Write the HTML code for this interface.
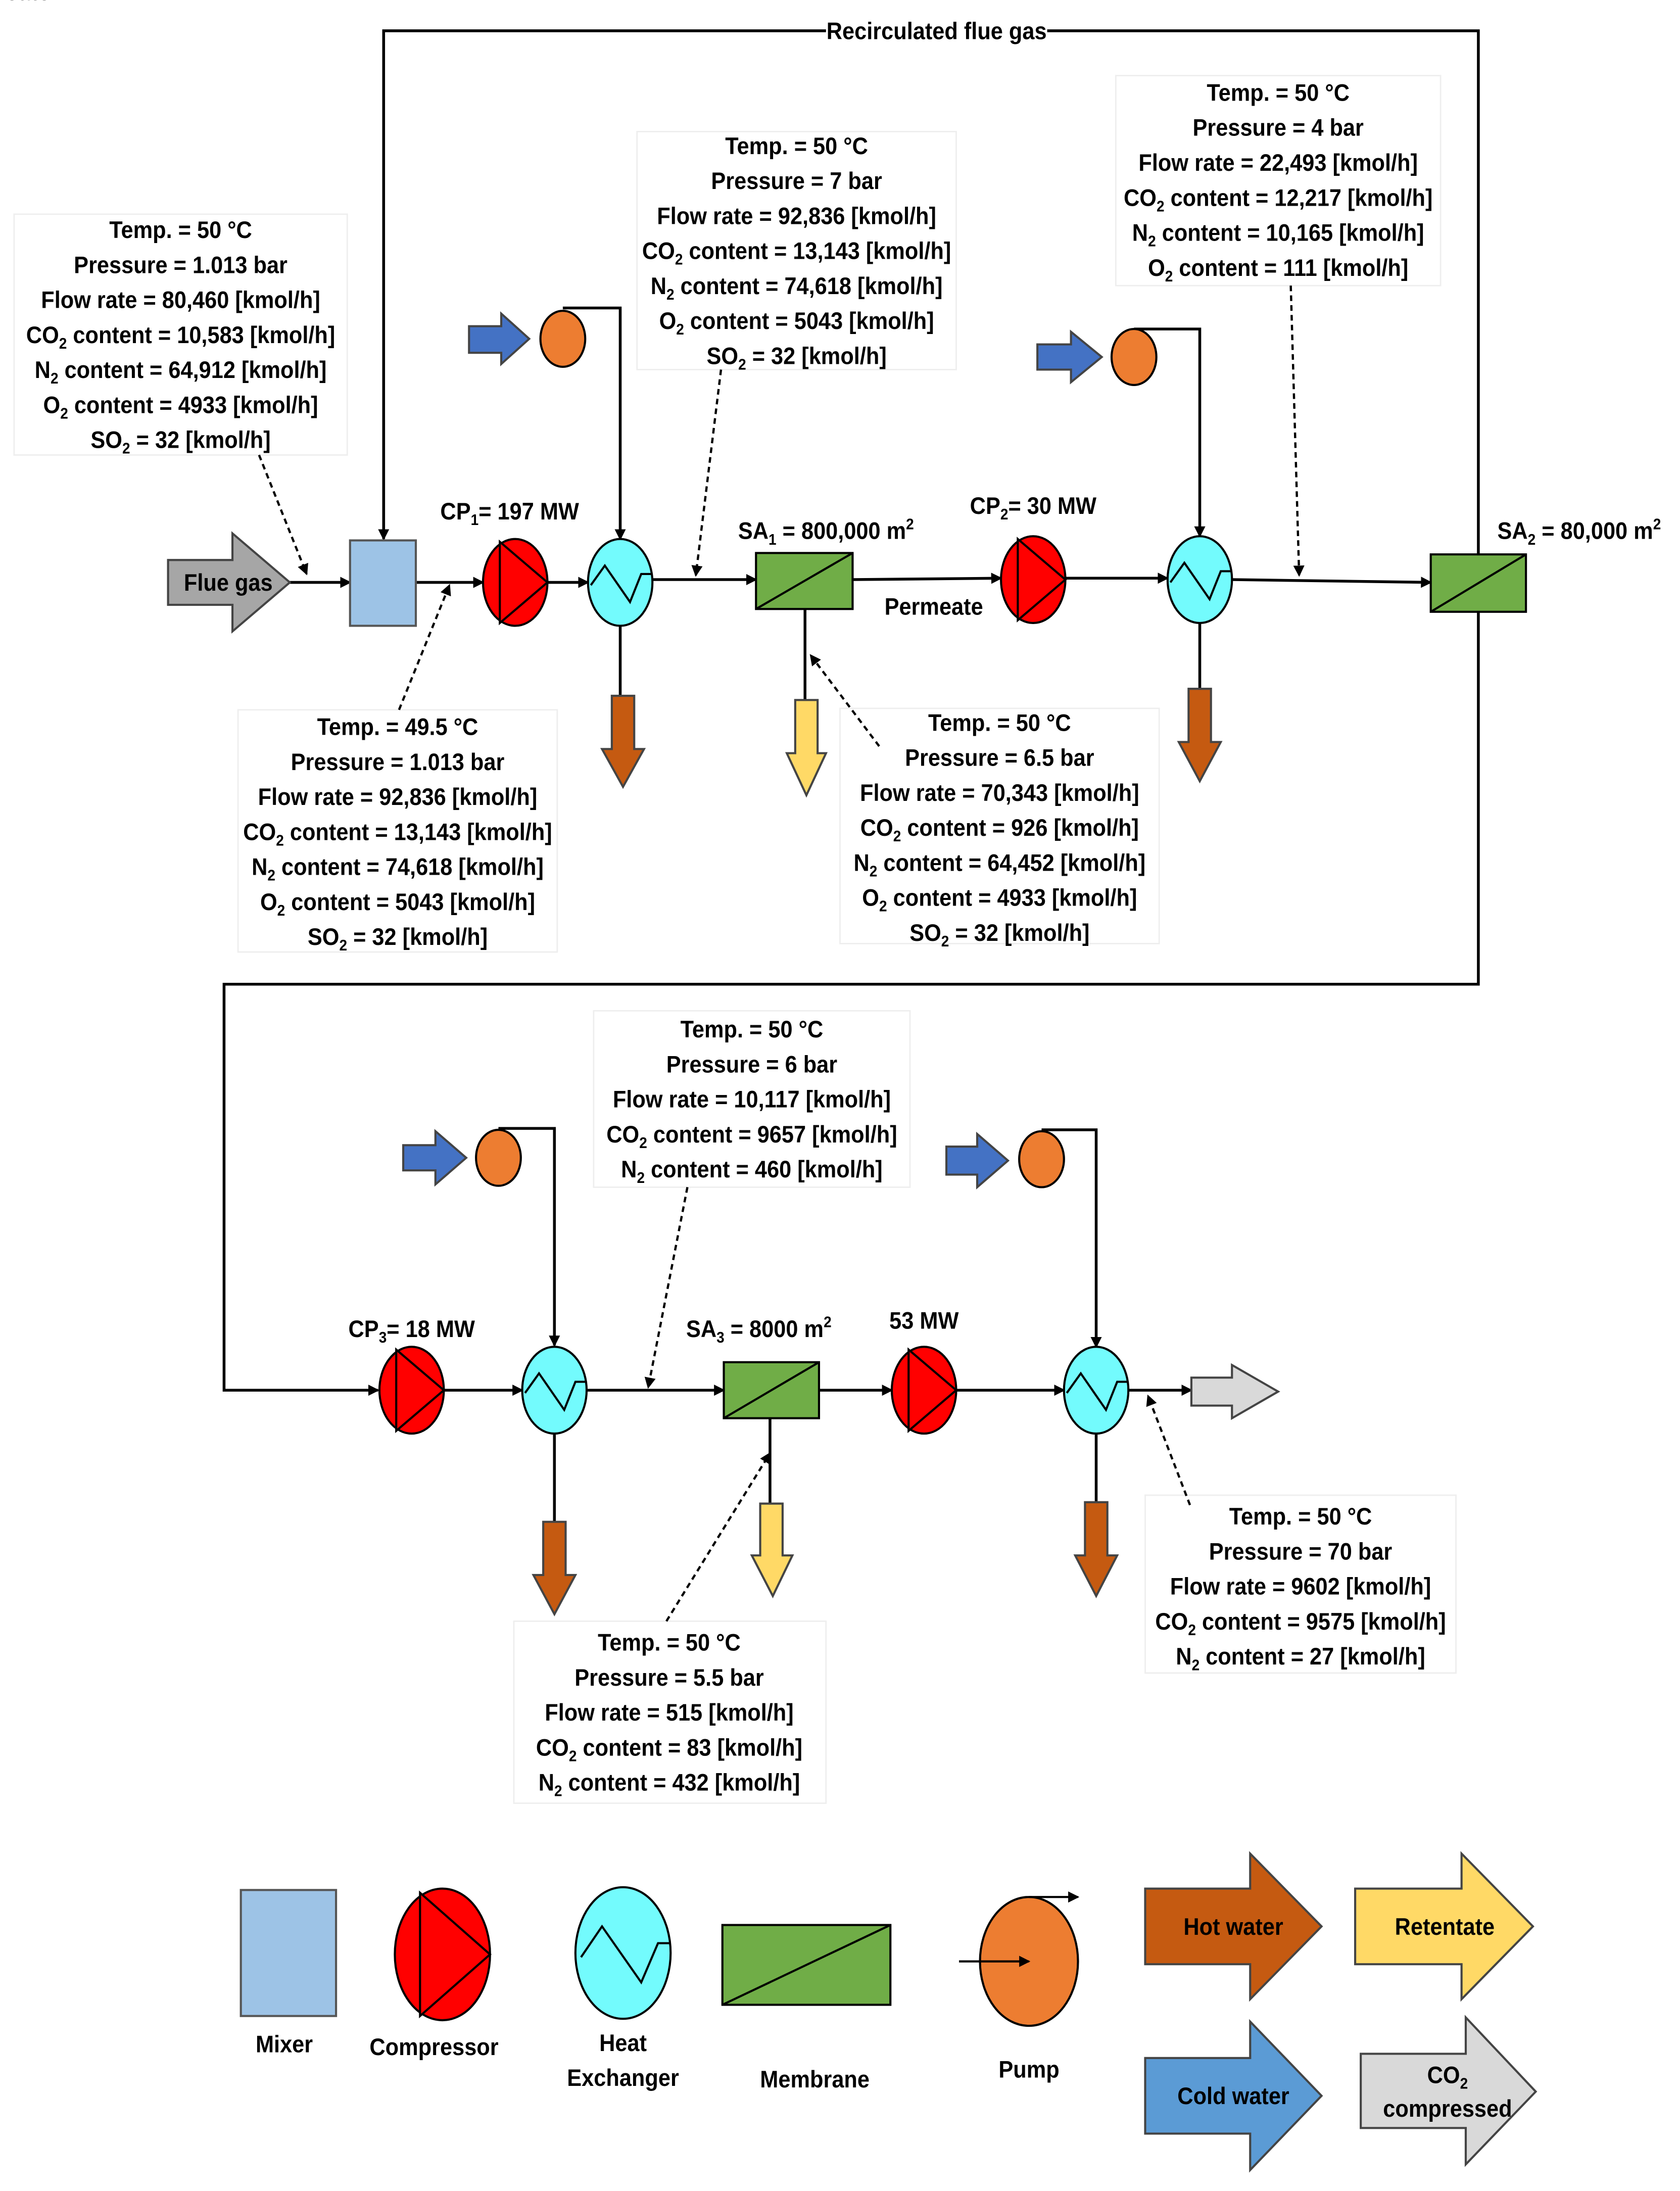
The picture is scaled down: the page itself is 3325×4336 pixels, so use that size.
<!DOCTYPE html>
<html><head><meta charset="utf-8"><style>
html,body{margin:0;padding:0;background:#fff}
svg{display:block}
text{font-family:"Liberation Sans Narrow","Liberation Sans",sans-serif;font-weight:bold;font-size:17px;fill:#000;text-anchor:middle;transform-box:fill-box;transform-origin:center;transform:scaleX(0.92)}
text.rot{transform:none}
</style></head><body>
<svg width="3325" height="4336" viewBox="0 0 1200 1565" xmlns="http://www.w3.org/2000/svg">
<defs>
<marker id="a" markerWidth="8" markerHeight="8" refX="7" refY="4" orient="auto" markerUnits="userSpaceOnUse"><path d="M0,0 L8,4 L0,8 Z" fill="#000"/></marker>
</defs>
<g stroke="#000" stroke-width="2" fill="none">
<polyline points="274,385 274,22 1056,22 1056,396"/>
<line x1="274" y1="300" x2="274" y2="385" marker-end="url(#a)"/>
<polyline points="1056,437 1056,703 160,703 160,993 270,993" marker-end="url(#a)"/>
<line x1="207" y1="416" x2="250" y2="416" marker-end="url(#a)"/>
<line x1="297" y1="416" x2="345" y2="416" marker-end="url(#a)"/>
<line x1="391" y1="416" x2="420" y2="416" marker-end="url(#a)"/>
<line x1="466" y1="414" x2="540" y2="414" marker-end="url(#a)"/>
<line x1="609" y1="414" x2="715" y2="413" marker-end="url(#a)"/>
<line x1="761" y1="413" x2="834" y2="413" marker-end="url(#a)"/>
<line x1="880" y1="414" x2="1022" y2="416" marker-end="url(#a)"/>
<polyline points="402,220 443,220 443,385" marker-end="url(#a)"/>
<polyline points="810,235 857,235 857,383" marker-end="url(#a)"/>
<line x1="443" y1="447" x2="443" y2="497"/>
<line x1="575" y1="435" x2="575" y2="500"/>
<line x1="857" y1="445" x2="857" y2="492"/>
<line x1="317" y1="993" x2="373" y2="993" marker-end="url(#a)"/>
<line x1="419" y1="993" x2="517" y2="993" marker-end="url(#a)"/>
<line x1="585" y1="993" x2="637" y2="993" marker-end="url(#a)"/>
<line x1="683" y1="993" x2="760" y2="993" marker-end="url(#a)"/>
<line x1="806" y1="993" x2="851" y2="993" marker-end="url(#a)"/>
<polyline points="356,806 396,806 396,961" marker-end="url(#a)"/>
<polyline points="744,807 783,807 783,962" marker-end="url(#a)"/>
<line x1="396" y1="1024" x2="396" y2="1087"/>
<line x1="550" y1="1013" x2="550" y2="1074"/>
<line x1="783" y1="1024" x2="783" y2="1073"/>
</g>
<rect x="590" y="12" width="158" height="20" fill="#fff"/>
<text x="669" y="28">Recirculated flue gas</text>
<text class="rot" transform="translate(142,873) rotate(90)" style="font-size:16px">Permeate</text>
<text x="667" y="439">Permeate</text>

<g fill="#fff" stroke="#eee" stroke-width="1">
<rect x="10" y="153" width="238" height="172"/>
<rect x="170" y="507" width="228" height="173"/>
<rect x="455" y="94" width="228" height="170"/>
<rect x="600" y="506" width="228" height="168"/>
<rect x="797" y="54" width="232" height="150"/>
<rect x="424" y="722" width="226" height="126"/>
<rect x="367" y="1158" width="223" height="130"/>
<rect x="818" y="1068" width="222" height="127"/>
</g>
<g stroke="#000" stroke-width="1.6" stroke-dasharray="4,3" fill="none">
<line x1="185" y1="325" x2="219" y2="410" marker-end="url(#a)"/>
<line x1="285" y1="507" x2="321" y2="418" marker-end="url(#a)"/>
<line x1="515" y1="264" x2="497" y2="411" marker-end="url(#a)"/>
<line x1="628" y1="533" x2="579" y2="468" marker-end="url(#a)"/>
<line x1="922" y1="204" x2="928" y2="411" marker-end="url(#a)"/>
<line x1="491" y1="848" x2="463" y2="991" marker-end="url(#a)"/>
<line x1="476" y1="1158" x2="550" y2="1038" marker-end="url(#a)"/>
<line x1="850" y1="1075" x2="820" y2="997" marker-end="url(#a)"/>
</g>

<g>
<text x="129" y="170">Temp. = 50 °C</text>
<text x="129" y="195">Pressure = 1.013 bar</text>
<text x="129" y="220">Flow rate = 80,460 [kmol/h]</text>
<text x="129" y="245">CO<tspan font-size="11" dy="4">2</tspan><tspan dy="-4"> content = 10,583 [kmol/h]</tspan></text>
<text x="129" y="270">N<tspan font-size="11" dy="4">2</tspan><tspan dy="-4"> content = 64,912 [kmol/h]</tspan></text>
<text x="129" y="295">O<tspan font-size="11" dy="4">2</tspan><tspan dy="-4"> content = 4933 [kmol/h]</tspan></text>
<text x="129" y="320">SO<tspan font-size="11" dy="4">2</tspan><tspan dy="-4"> = 32 [kmol/h]</tspan></text>

<text x="284" y="525">Temp. = 49.5 °C</text>
<text x="284" y="550">Pressure = 1.013 bar</text>
<text x="284" y="575">Flow rate = 92,836 [kmol/h]</text>
<text x="284" y="600">CO<tspan font-size="11" dy="4">2</tspan><tspan dy="-4"> content = 13,143 [kmol/h]</tspan></text>
<text x="284" y="625">N<tspan font-size="11" dy="4">2</tspan><tspan dy="-4"> content = 74,618 [kmol/h]</tspan></text>
<text x="284" y="650">O<tspan font-size="11" dy="4">2</tspan><tspan dy="-4"> content = 5043 [kmol/h]</tspan></text>
<text x="284" y="675">SO<tspan font-size="11" dy="4">2</tspan><tspan dy="-4"> = 32 [kmol/h]</tspan></text>

<text x="569" y="110">Temp. = 50 °C</text>
<text x="569" y="135">Pressure = 7 bar</text>
<text x="569" y="160">Flow rate = 92,836 [kmol/h]</text>
<text x="569" y="185">CO<tspan font-size="11" dy="4">2</tspan><tspan dy="-4"> content = 13,143 [kmol/h]</tspan></text>
<text x="569" y="210">N<tspan font-size="11" dy="4">2</tspan><tspan dy="-4"> content = 74,618 [kmol/h]</tspan></text>
<text x="569" y="235">O<tspan font-size="11" dy="4">2</tspan><tspan dy="-4"> content = 5043 [kmol/h]</tspan></text>
<text x="569" y="260">SO<tspan font-size="11" dy="4">2</tspan><tspan dy="-4"> = 32 [kmol/h]</tspan></text>

<text x="714" y="522">Temp. = 50 °C</text>
<text x="714" y="547">Pressure = 6.5 bar</text>
<text x="714" y="572">Flow rate = 70,343 [kmol/h]</text>
<text x="714" y="597">CO<tspan font-size="11" dy="4">2</tspan><tspan dy="-4"> content = 926 [kmol/h]</tspan></text>
<text x="714" y="622">N<tspan font-size="11" dy="4">2</tspan><tspan dy="-4"> content = 64,452 [kmol/h]</tspan></text>
<text x="714" y="647">O<tspan font-size="11" dy="4">2</tspan><tspan dy="-4"> content = 4933 [kmol/h]</tspan></text>
<text x="714" y="672">SO<tspan font-size="11" dy="4">2</tspan><tspan dy="-4"> = 32 [kmol/h]</tspan></text>

<text x="913" y="72">Temp. = 50 °C</text>
<text x="913" y="97">Pressure = 4 bar</text>
<text x="913" y="122">Flow rate = 22,493 [kmol/h]</text>
<text x="913" y="147">CO<tspan font-size="11" dy="4">2</tspan><tspan dy="-4"> content = 12,217 [kmol/h]</tspan></text>
<text x="913" y="172">N<tspan font-size="11" dy="4">2</tspan><tspan dy="-4"> content = 10,165 [kmol/h]</tspan></text>
<text x="913" y="197">O<tspan font-size="11" dy="4">2</tspan><tspan dy="-4"> content = 111 [kmol/h]</tspan></text>

<text x="537" y="741">Temp. = 50 °C</text>
<text x="537" y="766">Pressure = 6 bar</text>
<text x="537" y="791">Flow rate = 10,117 [kmol/h]</text>
<text x="537" y="816">CO<tspan font-size="11" dy="4">2</tspan><tspan dy="-4"> content = 9657 [kmol/h]</tspan></text>
<text x="537" y="841">N<tspan font-size="11" dy="4">2</tspan><tspan dy="-4"> content = 460  [kmol/h]</tspan></text>

<text x="478" y="1179">Temp. = 50 °C</text>
<text x="478" y="1204">Pressure = 5.5 bar</text>
<text x="478" y="1229">Flow rate = 515 [kmol/h]</text>
<text x="478" y="1254">CO<tspan font-size="11" dy="4">2</tspan><tspan dy="-4"> content = 83 [kmol/h]</tspan></text>
<text x="478" y="1279">N<tspan font-size="11" dy="4">2</tspan><tspan dy="-4"> content = 432 [kmol/h]</tspan></text>

<text x="929" y="1089">Temp. = 50 °C</text>
<text x="929" y="1114">Pressure = 70 bar</text>
<text x="929" y="1139">Flow rate = 9602 [kmol/h]</text>
<text x="929" y="1164">CO<tspan font-size="11" dy="4">2</tspan><tspan dy="-4"> content = 9575 [kmol/h]</tspan></text>
<text x="929" y="1189">N<tspan font-size="11" dy="4">2</tspan><tspan dy="-4"> content = 27 [kmol/h]</tspan></text>

<text x="364" y="371">CP<tspan font-size="11" dy="4">1</tspan><tspan dy="-4">= 197 MW</tspan></text>
<text x="738" y="367">CP<tspan font-size="11" dy="4">2</tspan><tspan dy="-4">= 30 MW</tspan></text>
<text x="294" y="955">CP<tspan font-size="11" dy="4">3</tspan><tspan dy="-4">= 18 MW</tspan></text>
<text x="660" y="949">53 MW</text>
<text x="590" y="385">SA<tspan font-size="11" dy="4">1</tspan><tspan dy="-4"> = 800,000 m</tspan><tspan font-size="11" dy="-7">2</tspan></text>
<text x="1128" y="385">SA<tspan font-size="11" dy="4">2</tspan><tspan dy="-4"> = 80,000 m</tspan><tspan font-size="11" dy="-7">2</tspan></text>
<text x="542" y="955">SA<tspan font-size="11" dy="4">3</tspan><tspan dy="-4"> = 8000 m</tspan><tspan font-size="11" dy="-7">2</tspan></text>
</g>

<g stroke="#444" stroke-width="1.5">
<polygon fill="#a6a6a6" points="120,400 166,400 166,381 207,416 166,451 166,432 120,432"/>
<polygon fill="#4472c4" points="335,233 358,233 358,224 378,242 358,260 358,252 335,252"/>
<polygon fill="#4472c4" points="741,246 765,246 765,237 787,255 765,273 765,264 741,264"/>
<polygon fill="#4472c4" points="288,818 311,818 311,808 333,827 311,846 311,836 288,836"/>
<polygon fill="#4472c4" points="676,819 698,819 698,810 720,829 698,848 698,839 676,839"/>
<polygon fill="#c55a11" points="437,497 453,497 453,535 460,535 445,562 430,535 437,535"/>
<polygon fill="#c55a11" points="849,492 865,492 865,530 872,530 857,558 842,530 849,530"/>
<polygon fill="#c55a11" points="388,1087 404,1087 404,1125 411,1125 396,1153 381,1125 388,1125"/>
<polygon fill="#c55a11" points="775,1073 791,1073 791,1111 798,1111 783,1140 768,1111 775,1111"/>
<polygon fill="#ffd966" points="568,500 584,500 584,538 590,538 576,568 562,538 568,538"/>
<polygon fill="#ffd966" points="543,1074 559,1074 559,1111 566,1111 552,1140 537,1111 543,1111"/>
<polygon fill="#d9d9d9" points="851,984 880,984 880,975 913,994 880,1013 880,1004 851,1004"/>
</g>
<text x="163" y="422">Flue gas</text>

<g stroke="#000" stroke-width="1.5">
<rect x="250" y="386" width="47" height="61" fill="#9dc3e6" stroke="#555"/>
<rect x="540" y="395" width="69" height="40" fill="#70ad47"/>
<line x1="540" y1="435" x2="609" y2="395"/>
<rect x="1022" y="396" width="68" height="41" fill="#70ad47"/>
<line x1="1022" y1="437" x2="1090" y2="396"/>
<rect x="517" y="973" width="68" height="40" fill="#70ad47"/>
<line x1="517" y1="1013" x2="585" y2="973"/>
<ellipse cx="368" cy="416" rx="23" ry="31" fill="#ff0000"/>
<polygon points="357,387 391,416 357,445" fill="#ff0000"/>
<ellipse cx="738" cy="414" rx="23" ry="31" fill="#ff0000"/>
<polygon points="727,385 761,414 727,443" fill="#ff0000"/>
<ellipse cx="294" cy="993" rx="23" ry="31" fill="#ff0000"/>
<polygon points="283,964 317,993 283,1022" fill="#ff0000"/>
<ellipse cx="660" cy="993" rx="23" ry="31" fill="#ff0000"/>
<polygon points="649,964 683,993 649,1022" fill="#ff0000"/>
<ellipse cx="443" cy="416" rx="23" ry="31" fill="#73fbfd"/>
<polyline fill="none" points="422,418 432,404 450,430 458,410 466,410"/>
<ellipse cx="857" cy="414" rx="23" ry="31" fill="#73fbfd"/>
<polyline fill="none" points="836,416 846,402 864,428 872,408 880,408"/>
<ellipse cx="396" cy="993" rx="23" ry="31" fill="#73fbfd"/>
<polyline fill="none" points="375,995 385,981 403,1007 411,987 419,987"/>
<ellipse cx="783" cy="993" rx="23" ry="31" fill="#73fbfd"/>
<polyline fill="none" points="762,995 772,981 790,1007 798,987 806,987"/>
<ellipse cx="402" cy="242" rx="16" ry="20" fill="#ed7d31"/>
<ellipse cx="810" cy="255" rx="16" ry="20" fill="#ed7d31"/>
<ellipse cx="356" cy="827" rx="16" ry="20" fill="#ed7d31"/>
<ellipse cx="744" cy="828" rx="16" ry="20" fill="#ed7d31"/>
</g>

<g stroke="#000" stroke-width="1.5">
<rect x="172" y="1350" width="68" height="90" fill="#9dc3e6" stroke="#555"/>
<ellipse cx="316" cy="1396" rx="34" ry="47" fill="#ff0000"/>
<polygon points="300,1352 350,1396 300,1440" fill="#ff0000"/>
<ellipse cx="445" cy="1395" rx="34" ry="47" fill="#73fbfd"/>
<polyline fill="none" points="415,1398 430,1376 458,1416 470,1388 479,1388"/>
<rect x="516" y="1375" width="120" height="57" fill="#70ad47"/>
<line x1="516" y1="1432" x2="636" y2="1375"/>
<ellipse cx="735" cy="1401" rx="35" ry="46" fill="#ed7d31"/>
</g>
<g stroke="#000" stroke-width="1.5" fill="none">
<line x1="685" y1="1401" x2="735" y2="1401" marker-end="url(#a)"/>
<line x1="735" y1="1355" x2="770" y2="1355" marker-end="url(#a)"/>
</g>
<g stroke="#444" stroke-width="1.5">
<polygon fill="#c55a11" points="818,1349 893,1349 893,1324 944,1376 893,1428 893,1403 818,1403"/>
<polygon fill="#ffd966" points="968,1349 1044,1349 1044,1324 1095,1376 1044,1428 1044,1403 968,1403"/>
<polygon fill="#5b9bd5" points="818,1470 893,1470 893,1444 944,1497 893,1550 893,1524 818,1524"/>
<polygon fill="#d9d9d9" points="972,1467 1047,1467 1047,1441 1097,1494 1047,1546 1047,1520 972,1520"/>
</g>
<text x="203" y="1466">Mixer</text>
<text x="310" y="1468">Compressor</text>
<text x="445" y="1465">Heat</text>
<text x="445" y="1490">Exchanger</text>
<text x="582" y="1491">Membrane</text>
<text x="735" y="1484">Pump</text>
<text x="881" y="1382">Hot water</text>
<text x="1032" y="1382">Retentate</text>
<text x="881" y="1503">Cold water</text>
<text x="1034" y="1488">CO<tspan font-size="11" dy="4">2</tspan></text>
<text x="1034" y="1512">compressed</text>
</svg>
</body></html>
